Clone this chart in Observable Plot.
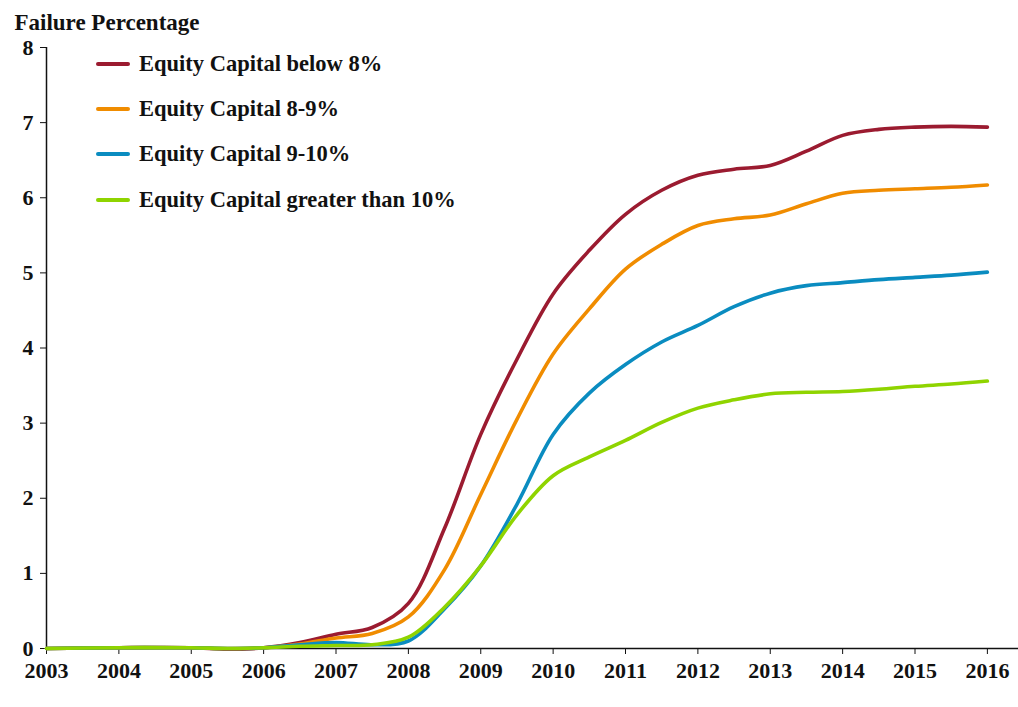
<!DOCTYPE html>
<html>
<head>
<meta charset="utf-8">
<script src="https://cdn.jsdelivr.net/npm/d3@7"></script>
<script src="https://cdn.jsdelivr.net/npm/@observablehq/plot@0.6"></script>
<style>
  html, body { margin: 0; padding: 0; background: #fff; }
  #wrap { position: relative; width: 1018px; height: 707px; font-family: "Liberation Serif", serif; }
  #legend { position: absolute; left: 96px; top: 41px; font-weight: bold; font-size: 22.5px; color: #111; }
  #legend .item { display: flex; align-items: center; height: 45.3px; }
  #legend .sw { width: 34px; height: 4px; border-radius: 2px; margin-right: 9px; }
</style>
</head>
<body>
<div id="wrap"><div id="legend"></div></div>
<script>
const years = [2003, 2004, 2005, 2005.5, 2006, 2006.5, 2007, 2007.5, 2008, 2008.5, 2009, 2009.5, 2010, 2010.5, 2011, 2011.5, 2012, 2012.5, 2013, 2013.5, 2014, 2014.5, 2015, 2015.5, 2016];
const seriesNames = ["Equity Capital below 8%", "Equity Capital 8-9%", "Equity Capital 9-10%", "Equity Capital greater than 10%"];
const seriesColors = ["#9b1b30", "#f08c00", "#0a8cc0", "#8fd400"];
const below8 = [0, 0.01, 0.01, -0.01, 0.01, 0.08, 0.19, 0.28, 0.6, 1.6, 2.85, 3.85, 4.72, 5.3, 5.78, 6.1, 6.3, 6.38, 6.43, 6.62, 6.83, 6.91, 6.94, 6.95, 6.94];
const cap8to9 = [0, 0.01, 0.01, 0, 0.01, 0.06, 0.14, 0.2, 0.42, 1.05, 2.05, 3.05, 3.92, 4.52, 5.05, 5.38, 5.63, 5.72, 5.77, 5.92, 6.06, 6.1, 6.12, 6.14, 6.17];
const cap9to10 = [0, 0.01, 0.01, 0, 0.01, 0.05, 0.08, 0.05, 0.1, 0.53, 1.1, 1.92, 2.85, 3.4, 3.78, 4.08, 4.3, 4.55, 4.73, 4.83, 4.87, 4.91, 4.94, 4.97, 5.01];
const above10 = [0, 0.01, 0.01, 0, 0.01, 0.03, 0.04, 0.05, 0.15, 0.55, 1.1, 1.78, 2.3, 2.55, 2.77, 3.01, 3.2, 3.31, 3.39, 3.41, 3.42, 3.45, 3.49, 3.52, 3.56];
const yTicks = [0, 1, 2, 3, 4, 5, 6, 7, 8];
const xTicks = [2003, 2004, 2005, 2006, 2007, 2008, 2009, 2010, 2011, 2012, 2013, 2014, 2015, 2016];
const titleText = "Failure Percentage";

const allSeries = [below8, cap8to9, cap9to10, above10];
const data = [];
allSeries.forEach((vals, i) => vals.forEach((v, j) => data.push({year: years[j], value: v, series: seriesNames[i]})));

const plot = Plot.plot({
  width: 1018,
  height: 707,
  marginLeft: 46,
  marginRight: 0,
  marginTop: 47,
  marginBottom: 59,
  style: {fontFamily: "Liberation Serif, serif", fontSize: "22px", fontWeight: "bold", color: "#111", background: "#fff"},
  x: {domain: [2003, 2016.43], axis: null},
  y: {domain: [0, 8], axis: null},
  color: {domain: seriesNames, range: seriesColors},
  marks: [
    Plot.axisY({ticks: yTicks, tickSize: 6, tickPadding: 7, tickFormat: d => d, fontSize: 22, fontWeight: "bold", label: null}),
    Plot.axisX({ticks: xTicks, tickSize: 6, tickPadding: 8, tickFormat: d => String(d), fontSize: 22, fontWeight: "bold", label: null}),
    Plot.ruleX([2003], {y1: 0, y2: 8, stroke: "#111", strokeWidth: 1.5}),
    Plot.ruleY([0], {stroke: "#111", strokeWidth: 1.5}),
    Plot.line(data, {x: "year", y: "value", stroke: "series", z: "series", strokeWidth: 3.6, curve: "catmull-rom"}),
    Plot.text([titleText], {frameAnchor: "top-left", dx: -32, dy: -34, text: d => d, fontSize: 23, fontWeight: "bold", textAnchor: "start", fill: "#111"})
  ]
});
document.getElementById("wrap").prepend(plot);

const legend = document.getElementById("legend");
seriesNames.forEach((name, i) => {
  const item = document.createElement("div");
  item.className = "item";
  const sw = document.createElement("span");
  sw.className = "sw";
  sw.style.background = seriesColors[i];
  const label = document.createElement("span");
  label.textContent = name;
  item.append(sw, label);
  legend.append(item);
});
</script>
</body>
</html>
